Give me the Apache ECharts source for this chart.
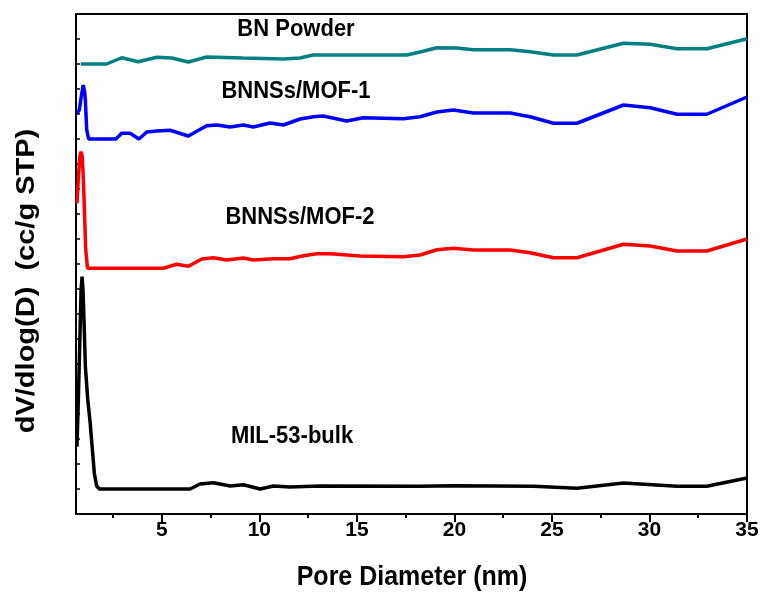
<!DOCTYPE html>
<html><head><meta charset="utf-8">
<script src="https://cdn.jsdelivr.net/npm/echarts@6/dist/echarts.min.js"></script>
<style>html,body{margin:0;padding:0;background:#fff}#c{width:763px;height:596px}</style>
</head><body><div id="c"></div>
<script>
// Pore diameter (nm) / offset dV/dlog(D) values (arbitrary offset units)
const bnPowder = [[0.84,18.0],[2.17,18.0],[2.94,18.25],[3.79,18.09],[4.74,18.27],[5.51,18.24],[6.36,18.08],[7.30,18.28],[9.16,18.24],[11.22,18.2],[12.09,18.24],[12.75,18.36],[17.56,18.36],[18.24,18.48],[19.10,18.65],[20.12,18.64],[20.97,18.57],[22.86,18.57],[23.88,18.49],[25.08,18.36],[26.28,18.36],[28.67,18.83],[30.04,18.79],[31.41,18.61],[32.94,18.61],[35.0,19.01]];
const mof1 = [[0.65,16.03],[0.77,16.16],[0.87,16.7],[0.97,17.16],[1.04,16.9],[1.08,16.56],[1.15,15.36],[1.25,15.0],[2.65,15.0],[2.94,15.23],[3.37,15.23],[3.83,15.0],[4.23,15.28],[4.74,15.32],[5.42,15.35],[6.36,15.12],[7.30,15.53],[7.82,15.56],[8.50,15.48],[9.18,15.56],[9.69,15.48],[10.55,15.64],[11.23,15.56],[12.09,15.8],[12.77,15.89],[13.28,15.92],[14.48,15.72],[15.33,15.85],[17.38,15.81],[18.24,15.89],[19.10,16.08],[19.95,16.16],[20.97,16.04],[22.86,16.04],[23.88,15.89],[25.08,15.63],[26.28,15.63],[28.67,16.36],[30.04,16.25],[31.41,15.99],[32.94,15.99],[35.0,16.68]];
const mof2 = [[0.65,12.43],[0.73,13.56],[0.80,14.3],[0.86,14.49],[0.92,14.3],[0.98,13.36],[1.10,10.56],[1.19,9.83],[5.08,9.83],[5.76,9.99],[6.36,9.91],[7.05,10.2],[7.64,10.25],[8.33,10.16],[9.18,10.24],[9.69,10.16],[10.72,10.21],[11.57,10.21],[12.26,10.33],[12.94,10.41],[13.63,10.41],[15.16,10.32],[17.38,10.29],[18.24,10.36],[19.10,10.57],[19.95,10.63],[20.97,10.56],[22.86,10.56],[23.88,10.45],[25.08,10.25],[26.28,10.25],[28.67,10.79],[30.04,10.72],[31.41,10.52],[32.94,10.52],[35.0,11.0]];
const mil53 = [[0.65,2.69],[0.72,4.56],[0.81,7.36],[0.86,8.96],[0.91,9.49],[0.96,8.96],[1.02,7.49],[1.08,5.9],[1.20,4.6],[1.32,3.7],[1.54,1.63],[1.66,1.12],[1.80,1.0],[6.45,1.0],[6.96,1.2],[7.64,1.25],[8.50,1.12],[9.18,1.17],[10.04,1.0],[10.72,1.12],[11.57,1.08],[13.11,1.12],[18.24,1.11],[19.95,1.13],[24.05,1.11],[26.28,1.03],[28.67,1.24],[31.41,1.11],[32.94,1.11],[35.0,1.44]];
const seriesNames = ['BN Powder','BNNSs/MOF-1','BNNSs/MOF-2','MIL-53-bulk'];
const seriesColors = ['#008080','#0000FF','#FF0000','#000000'];
const majorTicks = [5,10,15,20,25,30,35];
const minorTicks = [2.5,7.5,12.5,17.5,22.5,27.5,32.5];
const xTitle = 'Pore Diameter (nm)';
const yTitle = 'dV/dlog(D)  (cc/g STP)';

const FONT = '"Liberation Sans", Arial, sans-serif';
const chart = echarts.init(document.getElementById('c'), null, {renderer:'canvas'});
const allData = [bnPowder, mof1, mof2, mil53];
const labelPos = [[296,29],[296,91],[300,217],[292,436]];

const graphics = seriesNames.map((n,i)=>({
  type:'text',x:labelPos[i][0],y:labelPos[i][1],z:10,scaleY:1.12,
  style:{text:n,fill:'#000',font:'bold 22px '+FONT,textAlign:'center',textVerticalAlign:'middle'}
}));
graphics.push({
  type:'text',x:27,y:281,rotation:Math.PI/2,scaleX:1.16,z:10,
  style:{text:yTitle,fill:'#000',font:'bold 25px '+FONT,textAlign:'center',textVerticalAlign:'middle'}
});
graphics.push({
  type:'text',x:412,y:577,z:10,scaleY:1.12,
  style:{text:xTitle,fill:'#000',font:'bold 25px '+FONT,textAlign:'center',textVerticalAlign:'middle'}
});

chart.setOption({
  animation:false,
  backgroundColor:'#fff',
  grid:{left:76,right:16,top:14,bottom:82,show:true,borderColor:'#000',borderWidth:2,containLabel:false,outerBoundsMode:'none'},
  xAxis:[{
    type:'value',min:0.6,max:35,
    axisLine:{lineStyle:{color:'#000',width:2}},
    axisTick:{customValues:majorTicks,length:8,lineStyle:{color:'#000',width:2}},
    axisLabel:{customValues:majorTicks,color:'#000',fontFamily:FONT,fontWeight:'bold',fontSize:21,margin:6},
    splitLine:{show:false}
  },{
    type:'value',min:0.6,max:35,position:'bottom',
    axisLine:{show:false},
    axisTick:{customValues:minorTicks,length:4,lineStyle:{color:'#000',width:2}},
    axisLabel:{show:false},splitLine:{show:false}
  }],
  yAxis:{
    type:'value',min:0,max:20,interval:1,
    axisLine:{lineStyle:{color:'#000',width:2}},
    axisTick:{inside:true,length:4,lineStyle:{color:'#000',width:1.5}},
    axisLabel:{show:false},splitLine:{show:false}
  },
  series: allData.map((d,i)=>({
    type:'line',name:seriesNames[i],data:d,showSymbol:false,symbol:'none',
    lineStyle:{color:seriesColors[i],width:3.5},color:seriesColors[i],z:3
  })),
  graphic: graphics
});
</script></body></html>
